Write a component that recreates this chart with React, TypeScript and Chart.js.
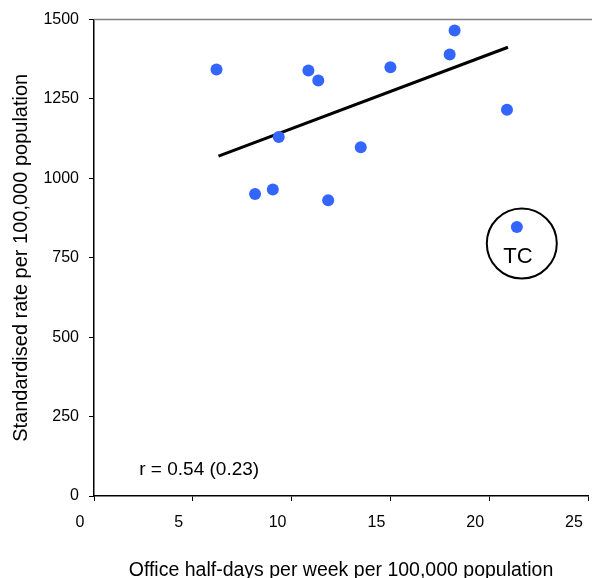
import React, { useEffect, useRef } from "react";
import { Chart, registerables } from "chart.js";

Chart.register(...registerables);

// Office half-days per week per 100,000 population
const xValues = [6.2, 8.15, 9.05, 9.35, 10.85, 11.35, 11.85, 13.5, 15.0, 18.0, 18.25, 20.9, 21.4];
// Standardised rate per 100,000 population
const yValues = [1343, 951, 965, 1130, 1340, 1308, 931, 1098, 1350, 1390, 1466, 1216, 847];

// Regression line end points
const trendX = [6.3, 20.95];
const trendY = [1070, 1413];

// Circle highlighting TC
const circleX = [21.65];
const circleY = [795];

const xTicks = [0, 5, 10, 15, 20, 25];
const yTicks = [0, 250, 500, 750, 1000, 1250, 1500];

const xTitle = "Office half-days per week per 100,000 population";
const yTitle = "Standardised rate per 100,000 population";
const rLabel = "r = 0.54 (0.23)";
const rLabelPos = { x: 2.29, y: 83 };
const tcLabel = "TC";
const tcLabelPos = { x: 21.45, y: 752 };

const FONT = '"Liberation Sans", Arial, Helvetica, sans-serif';

export default function App() {
  const ref = useRef<HTMLCanvasElement | null>(null);

  useEffect(() => {
    if (!ref.current) return;
    const textPlugin = {
      id: "extras",
      afterDraw(chart: any) {
        const { ctx, chartArea, scales } = chart;
        ctx.save();
        ctx.strokeStyle = "#808080";
        ctx.lineWidth = 1.5;
        ctx.beginPath();
        ctx.moveTo(chartArea.left, chartArea.top);
        ctx.lineTo(chart.width, chartArea.top);
        ctx.stroke();
        ctx.fillStyle = "#000";
        ctx.textBaseline = "middle";
        ctx.font = `19px ${FONT}`;
        ctx.textAlign = "left";
        ctx.fillText(rLabel, scales.x.getPixelForValue(rLabelPos.x), scales.y.getPixelForValue(rLabelPos.y));
        ctx.font = `22px ${FONT}`;
        ctx.textAlign = "center";
        ctx.fillText(tcLabel, scales.x.getPixelForValue(tcLabelPos.x), scales.y.getPixelForValue(tcLabelPos.y));
        ctx.restore();
      },
    };

    const chart = new Chart(ref.current, {
      type: "scatter",
      data: {
        datasets: [
          {
            label: "Practices",
            data: xValues.map((x, i) => ({ x, y: yValues[i] })),
            backgroundColor: "#3366ff",
            borderWidth: 0,
            pointRadius: 6,
            order: 0,
          },
          {
            type: "line",
            label: "Trend",
            data: trendX.map((x, i) => ({ x, y: trendY[i] })),
            borderColor: "#000",
            borderWidth: 3,
            pointRadius: 0,
            fill: false,
            order: 1,
          } as any,
          {
            label: "TC circle",
            data: circleX.map((x, i) => ({ x, y: circleY[i] })),
            backgroundColor: "rgba(0,0,0,0)",
            borderColor: "#000",
            borderWidth: 2,
            pointRadius: 35,
            order: 2,
          },
        ],
      },
      options: {
        responsive: false,
        animation: false,
        events: [],
        layout: { autoPadding: false, padding: { top: 19, right: 4, left: 0, bottom: 0 } },
        plugins: { legend: { display: false }, tooltip: { enabled: false } },
        font: { family: FONT },
        scales: {
          x: {
            type: "linear",
            min: 0,
            max: 25,
            afterBuildTicks: (s: any) => {
              s.ticks = xTicks.map((v) => ({ value: v }));
            },
            afterFit: (s: any) => {
              s.height = 82;
              s.paddingLeft = 0;
              s.paddingRight = 0;
            },
            grid: { drawOnChartArea: false, drawTicks: true, tickLength: 5, color: "#000", lineWidth: 1 },
            border: { display: true, color: "#000", width: 1.5 },
            ticks: {
              color: "#000",
              font: { size: 16, family: FONT },
              padding: 12,
              labelOffset: -14,
              maxRotation: 0,
              callback: (v: any) => String(v),
            },
            title: {
              display: true,
              text: xTitle,
              color: "#000",
              font: { size: 19.5, family: FONT },
              padding: { top: 0, bottom: -4 },
            },
          },
          y: {
            type: "linear",
            min: 0,
            max: 1500,
            afterBuildTicks: (s: any) => {
              s.ticks = yTicks.map((v) => ({ value: v }));
            },
            afterFit: (s: any) => {
              s.width = 94;
            },
            grid: { drawOnChartArea: false, drawTicks: true, tickLength: 5, color: "#000", lineWidth: 1 },
            border: { display: true, color: "#000", width: 1.5 },
            ticks: {
              color: "#000",
              font: { size: 16, family: FONT },
              padding: 10,
              callback: (v: any) => String(v),
            },
            title: {
              display: true,
              text: yTitle,
              color: "#000",
              font: { size: 20, family: FONT },
              padding: { top: 9, bottom: 0 },
            },
          },
        },
      } as any,
      plugins: [textPlugin],
    });
    return () => chart.destroy();
  }, []);

  return (
    <div style={{ position: "absolute", left: 0, top: 0, width: 592, height: 578 }}>
      <canvas ref={ref} width={592} height={578} style={{ display: "block" }} />
    </div>
  );
}
